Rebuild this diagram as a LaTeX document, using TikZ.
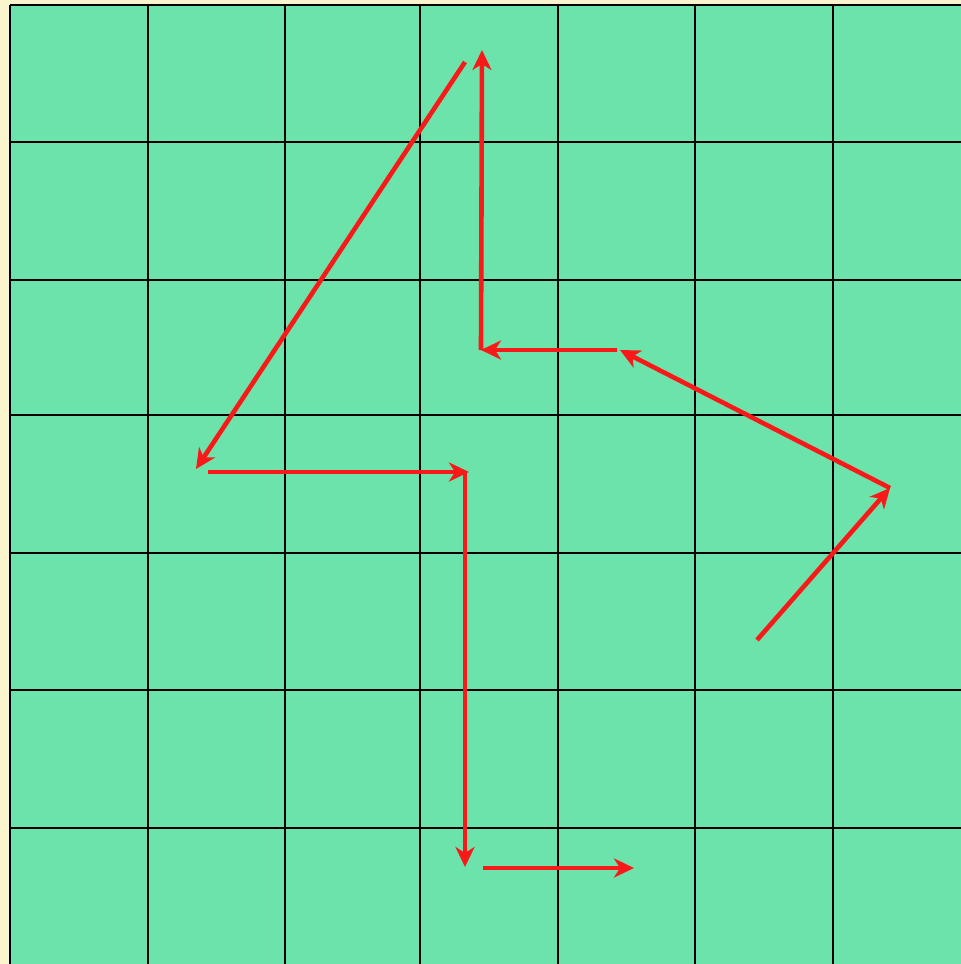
\documentclass[tikz,border=0pt]{standalone}
\usetikzlibrary{arrows.meta}
\definecolor{bgyellow}{RGB}{250,245,205}
\definecolor{mint}{RGB}{108,227,170}
\definecolor{arrred}{RGB}{250,25,25}
\tikzset{
  gridline/.style={draw=black, line width=1.8pt},
  move/.style={draw=arrred, line width=4.6pt, -{Stealth[length=20pt,width=19pt,inset=6pt]}}
}
\begin{document}
\begin{tikzpicture}[x=1pt,y=-1pt]
\useasboundingbox (0,0) rectangle (961,964);
\fill[bgyellow] (0,0) rectangle (961,964);
\fill[mint] (10,5) rectangle (961,964);
\foreach \x in {10,148,285,420,558,695,833} {\draw[gridline] (\x,5) -- (\x,964);}
\foreach \y in {5,142,280,415,553,690,828} {\draw[gridline] (10,\y) -- (961,\y);}
% path coordinates
\coordinate (s) at (757,640);
\coordinate (p1) at (890,488);
\coordinate (p2) at (620,350);
\coordinate (p2b) at (617,350);
\coordinate (p3) at (481,350);
\coordinate (p4) at (482,50);
\coordinate (p5s) at (465,62);
\coordinate (p5) at (196,469);
\coordinate (p6s) at (208,472);
\coordinate (p6) at (469,472);
\coordinate (p7s) at (465,472);
\coordinate (p7) at (465,867);
\coordinate (p8s) at (483,868);
\coordinate (p8) at (634,868);
\draw[move] (s) -- (p1);
\draw[move] (p1) -- (p2);
\draw[move] (p2b) -- (p3);
\draw[move] (p3) -- (p4);
\draw[move] (p5s) -- (p5);
\draw[move] (p6s) -- (p6);
\draw[move] (p7s) -- (p7);
\draw[move] (p8s) -- (p8);
\end{tikzpicture}
\end{document}
